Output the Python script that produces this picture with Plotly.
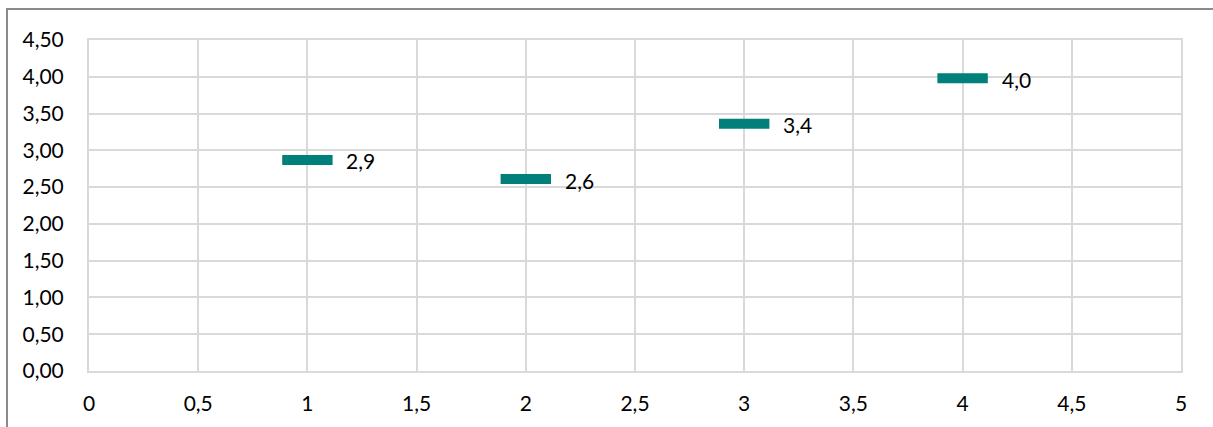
import plotly.graph_objects as go

# Mean score per group
groups = [1, 2, 3, 4]
means = [2.87, 2.61, 3.36, 3.98]

labels = [f"{v:.1f}".replace(".", ",") for v in means]

FONT = "Lato, Carlito, sans-serif"

fig = go.Figure()
fig.add_trace(go.Scatter(
    x=groups,
    y=means,
    mode="markers",
    marker=dict(symbol="line-ew", size=36,
                line=dict(width=10, color="#007F7B"), color="#007F7B"),
    showlegend=False,
))

# value labels to the right of each marker
for gx, gy, lab in zip(groups, means, labels):
    fig.add_annotation(x=gx, y=gy, text=lab, showarrow=False,
                       xanchor="left", yanchor="middle", xshift=37, yshift=-1,
                       font=dict(family=FONT, size=21, color="#000000"))

grid = "#d9d9d9"
fig.update_layout(
    width=1213, height=427,
    margin=dict(l=89, r=32, t=40, b=56),
    paper_bgcolor="white", plot_bgcolor="white",
    separators=", ",
    font=dict(family=FONT, size=21, color="#000000"),
    xaxis=dict(range=[0, 5], dtick=0.5, tick0=0, showgrid=True, gridcolor=grid,
               gridwidth=2, zeroline=False, showline=True, mirror=True,
               linecolor=grid, linewidth=2, ticks="", ticklabelstandoff=13,
               automargin=False),
    yaxis=dict(range=[0, 4.5], dtick=0.5, tick0=0, tickformat=".2f",
               showgrid=True, gridcolor=grid, gridwidth=2, zeroline=False,
               showline=True, mirror=True, linecolor=grid, linewidth=2,
               ticks="", ticklabelstandoff=19, automargin=False),
    shapes=[dict(type="rect", xref="paper", yref="paper",
                 x0=-0.0751, x1=1.06, y0=-0.3, y1=1.0937,
                 line=dict(color="#8a8a8a", width=2), fillcolor="rgba(0,0,0,0)",
                 layer="below")],
)

fig.write_html("out.html")
